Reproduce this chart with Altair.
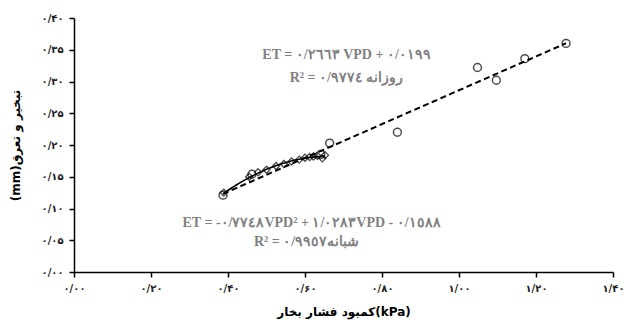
import json
import altair as alt
import numpy as np
import pandas as pd

# Daytime observations (روزانه): vapour pressure deficit (kPa) vs ET (mm)
day_vpd = [0.387, 0.462, 0.641, 0.664, 0.840, 1.048, 1.097, 1.171, 1.278]
day_et = [0.121, 0.154, 0.185, 0.203, 0.220, 0.322, 0.302, 0.336, 0.360]

# Night-time observations (شبانه)
night_vpd = [0.389, 0.455, 0.478, 0.500, 0.525, 0.545, 0.565, 0.585,
             0.600, 0.612, 0.622, 0.632, 0.645, 0.652]
night_et = [0.125, 0.150, 0.157, 0.161, 0.167, 0.170, 0.174, 0.177,
            0.180, 0.181, 0.182, 0.183, 0.179, 0.184]

# Fitted trend-line coefficients
lin_slope, lin_icpt = 0.2663, 0.0199
quad_a, quad_b, quad_c = -0.7748, 1.0283, -0.1588

# Equation labels
day_eq = "ET = ٠/٢٦٦٣ VPD + ٠/٠١٩٩"
day_r2 = "R² = ٠/٩٧٧٤\u200e روزانه"
night_eq = "ET = -٠/٧٧٤٨VPD² + ١/٠٢٨٣VPD - ٠/١٥٨٨"
night_r2 = "R² =  ٠/٩٩٥٧\u200eشبانه"
label_vpd = [0.708, 0.708, 0.617, 0.604]
label_et = [0.341, 0.306, 0.077, 0.048]

# Axis ticks
x_ticks = [0.0, 0.2, 0.4, 0.6, 0.8, 1.0, 1.2, 1.4]
x_tick_labels = ["۰/۰۰", "۰/۲۰", "۰/۴۰", "۰/۶۰", "۰/۸۰", "۱/۰۰", "۱/۲۰", "۱/۴۰"]
y_ticks = [0.0, 0.05, 0.10, 0.15, 0.20, 0.25, 0.30, 0.35, 0.40]
y_tick_labels = ["۰/۰۰", "۰/۰۵", "۰/۱۰", "۰/۱۵", "۰/۲۰", "۰/۲۵", "۰/۳۰", "۰/۳۵", "۰/۴۰"]

x_title = "کمبود فشار بخار(kPa)"
y_title = "(mm)تبخیر و تعرق"

day_df = pd.DataFrame({"vpd": day_vpd, "et": day_et})
night_df = pd.DataFrame({"vpd": night_vpd, "et": night_et})
lin_df = pd.DataFrame({"vpd": [min(day_vpd), max(day_vpd)]})
quad_df = pd.DataFrame({"vpd": np.linspace(min(night_vpd), max(night_vpd), 40)})
label_df = pd.DataFrame({"vpd": label_vpd, "et": label_et,
                         "txt": [day_eq, day_r2, night_eq, night_r2]})

x_enc = alt.X(
    "vpd:Q",
    scale=alt.Scale(domain=[0, 1.4], nice=False, zero=False),
    axis=alt.Axis(
        values=x_ticks,
        tickCount=len(x_ticks),
        labelExpr=f"{json.dumps(x_tick_labels, ensure_ascii=False)}[round(datum.value*5)]",
        labelOverlap=False,
        labelFlush=False,
        labelPadding=6,
        title=x_title,
        titlePadding=13,
    ),
)
y_enc = alt.Y(
    "et:Q",
    scale=alt.Scale(domain=[0, 0.4], nice=False, zero=False),
    axis=alt.Axis(
        values=y_ticks,
        tickCount=len(y_ticks),
        labelExpr=f"{json.dumps(y_tick_labels, ensure_ascii=False)}[round(datum.value*20)]",
        labelOverlap=False,
        labelFlush=False,
        labelPadding=6,
        title=y_title,
        titlePadding=19,
    ),
)

lin_line = (
    alt.Chart(lin_df)
    .transform_calculate(et=f"{lin_slope}*datum.vpd + {lin_icpt}")
    .mark_line(color="black", strokeWidth=2, strokeDash=[6, 3.5])
    .encode(x=x_enc, y=y_enc)
)

quad_line = (
    alt.Chart(quad_df)
    .transform_calculate(
        et=f"{quad_a}*datum.vpd*datum.vpd + {quad_b}*datum.vpd + ({quad_c})"
    )
    .mark_line(color="black", strokeWidth=1.6)
    .encode(x="vpd:Q", y="et:Q")
)

day_pts = (
    alt.Chart(day_df)
    .mark_point(shape="circle", filled=False, size=62, strokeWidth=1.5, color="black")
    .encode(x="vpd:Q", y="et:Q")
)

night_pts = (
    alt.Chart(night_df)
    .mark_point(shape="diamond", filled=False, size=50, strokeWidth=1.3, color="black")
    .encode(x="vpd:Q", y="et:Q")
)

labels = (
    alt.Chart(label_df)
    .mark_text(font="Liberation Serif", fontWeight="bold", fontSize=14,
               color="#7f7f7f", align="center", baseline="middle")
    .encode(x="vpd:Q", y="et:Q", text="txt:N")
)

chart = (
    alt.layer(lin_line, quad_line, night_pts, day_pts, labels)
    .properties(
        width=539,
        height=254,
        autosize=alt.AutoSizeParams(type="none"),
        padding={"left": 74, "top": 18, "right": 13, "bottom": 50},
        background="white",
    )
    .configure_view(stroke=None)
    .configure_axis(
        grid=False,
        domainColor="black",
        domainWidth=1.5,
        tickColor="black",
        tickWidth=1.5,
        tickSize=5,
        labelFont="DejaVu Sans",
        labelFontWeight="bold",
        labelFontSize=10,
        labelColor="#222222",
        titleFont="DejaVu Sans",
        titleFontWeight="bold",
        titleFontSize=12,
        titleColor="black",
    )
)

chart.save("out.html", embed_options={"renderer": "svg", "actions": False})
